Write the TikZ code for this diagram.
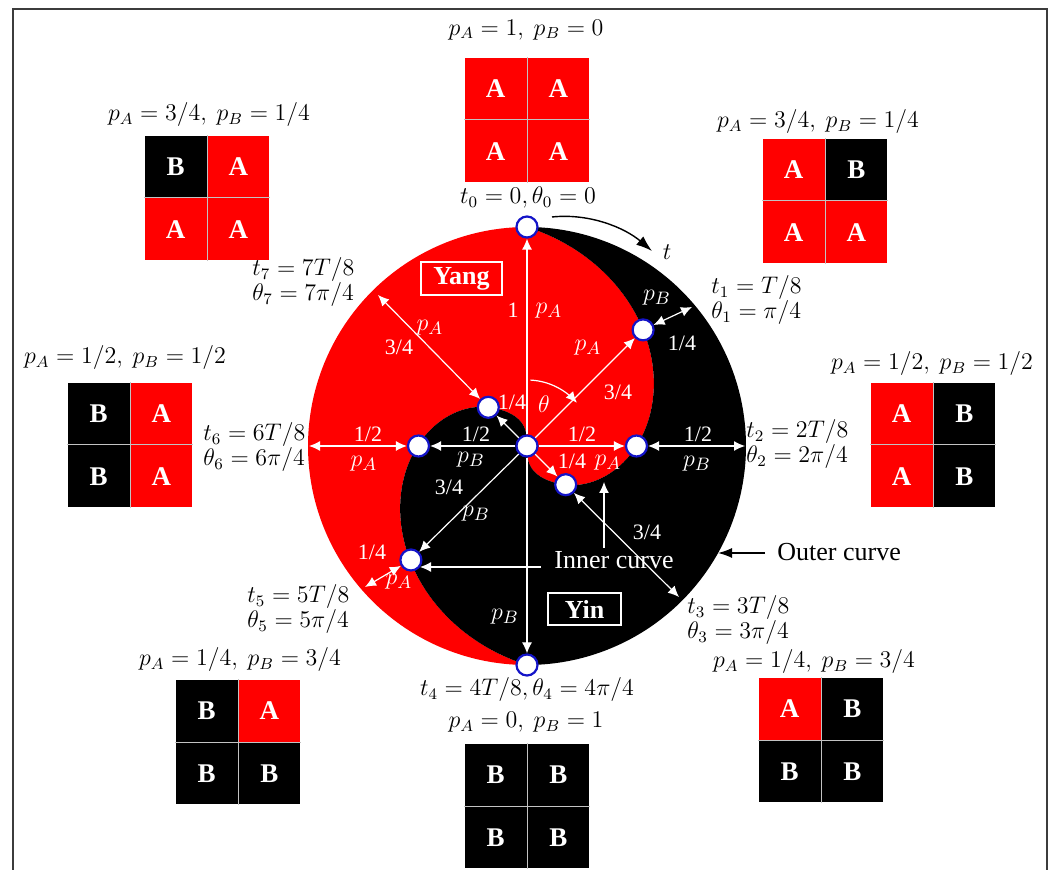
\documentclass[tikz,border=0pt]{standalone}
\usepackage{fontspec}
\setmainfont{Liberation Serif}
\usetikzlibrary{arrows.meta}
\definecolor{yred}{RGB}{255,0,0}
\definecolor{mblue}{RGB}{20,20,200}
\definecolor{gridline}{RGB}{195,195,195}
\definecolor{framec}{RGB}{60,60,60}
\newcommand\sqgrid[5]{%
  \node[cell,c#2,anchor=south east] (#1-tl) at (#1) {#2};
  \node[cell,c#3,anchor=south west] (#1-tr) at (#1) {#3};
  \node[cell,c#4,anchor=north east] (#1-bl) at (#1) {#4};
  \node[cell,c#5,anchor=north west] (#1-br) at (#1) {#5};
  \draw[gridline,line width=0.5pt] (#1-tl.north east) -- (#1-bl.south east);
  \draw[gridline,line width=0.5pt] (#1-tl.south west) -- (#1-tr.south east);
}
\begin{document}
\begin{tikzpicture}[x=0.5pt,y=-0.5pt,
  declare function={rs(\t)=ifthenelse(\t<135,219*(1-\t/180),54.75*(0.8*sqrt(max(0,(180-\t)/45))+0.2*((180-\t)/45)^3));},
  marker/.style={circle,draw=mblue,line width=1.1pt,fill=white,minimum size=10.5pt,inner sep=0pt},
  warrow/.style={white,line width=0.6pt,-{Latex[length=5.5pt,width=5pt]}},
  wdarrow/.style={white,line width=0.6pt,{Latex[length=5.5pt,width=5pt]}-{Latex[length=5.5pt,width=5pt]}},
  wlab/.style={text=white,font=\fontsize{11}{12}\selectfont,inner sep=0pt},
  wmath/.style={text=white,font=\fontsize{12.5}{13}\selectfont,inner sep=0pt},
  blab/.style={font=\fontsize{11.5}{12.5}\selectfont,inner sep=0pt},
  cell/.style={minimum size=31pt,inner sep=0pt,text=white,font=\fontsize{13.5}{16}\selectfont\bfseries},
  cA/.style={fill=yred},
  cB/.style={fill=black},
  wbox/.style={draw=white,line width=0.6pt,text=white,font=\fontsize{13}{15}\selectfont\bfseries,inner sep=0pt}
]
\useasboundingbox (0,0) rectangle (1054,870);
% frame
\draw[framec,line width=0.75pt] (13,870) -- (13,9) -- (1047,9) -- (1047,870);

% yin-yang body
\fill[yred] plot[domain=0:180,samples=200] ({527+rs(\x)*sin(\x)},{446-rs(\x)*cos(\x)})
  -- plot[domain=360:180,samples=200] ({527+rs(\x-180)*sin(\x)},{446-rs(\x-180)*cos(\x)})
  -- plot[domain=180:360,samples=160] ({527+219*sin(\x)},{446-219*cos(\x)}) -- cycle;
\fill[black] plot[domain=0:180,samples=200] ({527+rs(\x)*sin(\x)},{446-rs(\x)*cos(\x)})
  -- plot[domain=360:180,samples=200] ({527+rs(\x-180)*sin(\x)},{446-rs(\x-180)*cos(\x)})
  -- plot[domain=180:0,samples=160] ({527+219*sin(\x)},{446-219*cos(\x)}) -- cycle;

% markers
\node[marker] (cc) at (527,446) {};
\node[marker] (c0) at (527,227) {};
\node[marker] (c1) at (643.1,329.9) {};
\node[marker] (c2) at (636.5,446) {};
\node[marker] (c3) at (565.7,484.7) {};
\node[marker] (c4) at (527,665) {};
\node[marker] (c5) at (410.9,560) {};
\node[marker] (c6) at (418.5,446) {};
\node[marker] (c7) at (488.3,407.3) {};

% outer points
\coordinate (o1) at (692,307);
\coordinate (o2) at (745,446);
\coordinate (o3) at (679,597);
\coordinate (o5) at (365,587);
\coordinate (o6) at (309,446);
\coordinate (o7) at (378,295);

% white arrows
\foreach \n in {c0,c1,c2,c3,c4,c5,c6,c7} { \draw[warrow] (cc) -- (\n); }
\draw[wdarrow] (c1) -- (o1);
\draw[wdarrow] (c2) -- (o2);
\draw[wdarrow] (c3) -- (o3);
\draw[wdarrow] (c5) -- (o5);
\draw[wdarrow] (c6) -- (o6);
\draw[wdarrow] (c7) -- (o7);

% theta arc
\draw[warrow] plot[domain=3:49,samples=40] ({527+66*sin(\x)},{446-66*cos(\x)});
\node[wmath] (th) at (544,404) {$\theta$};

% white labels
\node[wlab] (l1) at (513,310) {1};
\node[wmath] (l2) at (549,311) {$p_A$};
\node[wmath] (l3) at (430,328) {$p_A$};
\node[wlab] (l4) at (399,347) {3/4};
\node[wmath] (l5) at (588,348) {$p_A$};
\node[wlab] (l6) at (618,392) {3/4};
\node[wmath] (l7) at (657,298) {$p_B$};
\node[wlab] (l8) at (682,343) {1/4};
\node[wlab] (l9) at (512,402) {1/4};
\node[wlab] (l10) at (368,434) {1/2};
\node[wmath] (l11) at (364,464) {$p_A$};
\node[wlab] (l12) at (476,434) {1/2};
\node[wmath] (l13) at (471,460) {$p_B$};
\node[wlab] (l14) at (582,434) {1/2};
\node[wlab] (l15) at (698,434) {1/2};
\node[wmath] (l16) at (697,464) {$p_B$};
\node[wlab] (l17) at (572,461) {1/4};
\node[wmath] (l18) at (608,463) {$p_A$};
\node[wlab] (l19) at (449,487) {3/4};
\node[wmath] (l20) at (476,514) {$p_B$};
\node[wlab] (l21) at (647,532) {3/4};
\node[wlab] (l22) at (372,552) {1/4};
\node[wmath] (l23) at (399,582) {$p_A$};
\node[wmath] (l24) at (505,617) {$p_B$};

% Yang / Yin boxes
\node[wbox,minimum width=40.5pt,minimum height=16.5pt] (yang) at (461.5,278.5) {Yang};
\node[wbox,minimum width=36.5pt,minimum height=16pt] (yin) at (584.5,609) {Yin};

% inner curve
\node[text=white,font=\fontsize{13}{15}\selectfont,inner sep=0pt] (ic) at (614,560) {Inner curve};
\coordinate (icv0) at (604,548);
\coordinate (icv1) at (604,482);
\coordinate (ich0) at (541,567);
\coordinate (ich1) at (420,567);
\draw[warrow] (icv0) -- (icv1);
\draw[warrow] (ich0) -- (ich1);

% outer curve
\node[font=\fontsize{13}{15}\selectfont,inner sep=0pt,anchor=west] (oc) at (777,552) {Outer curve};
\coordinate (oca) at (765,553);
\coordinate (ocb) at (718,553);
\draw[black,line width=0.7pt,-{Latex[length=7pt,width=5pt]}] (oca) -- (ocb);

% time arrow
\coordinate (ta) at (552,217);
\coordinate (tb) at (652,251);
\draw[black,line width=0.7pt,-{Latex[length=8pt,width=5.5pt]}] (ta) .. controls (590,213) and (625,228) .. (tb);
\node[font=\fontsize{12.5}{14}\selectfont,inner sep=0pt] (tl) at (667,252) {$t$};

% time labels
\node[blab] (t0) at (528,198) {$t_0 = 0, \theta_0 = 0$};
\node[blab,align=left,anchor=west] (t1) at (711,300) {$t_1 = T/8$\\$\theta_1 = \pi/4$};
\node[blab,align=left,anchor=west] (t2) at (746,444) {$t_2 = 2T/8$\\$\theta_2 = 2\pi/4$};
\node[blab,align=left,anchor=west] (t3) at (687,620) {$t_3 = 3T/8$\\$\theta_3 = 3\pi/4$};
\node[blab] (t4) at (527,690) {$t_4 = 4T/8, \theta_4 = 4\pi/4$};
\node[blab,align=left,anchor=west] (t5) at (247,609) {$t_5 = 5T/8$\\$\theta_5 = 5\pi/4$};
\node[blab,align=left,anchor=west] (t6) at (203,447) {$t_6 = 6T/8$\\$\theta_6 = 6\pi/4$};
\node[blab,align=left,anchor=west] (t7) at (252,282) {$t_7 = 7T/8$\\$\theta_7 = 7\pi/4$};

% grids
\coordinate (g0) at (527,120);
\coordinate (g1) at (825,201);
\coordinate (g2) at (933,445);
\coordinate (g3) at (821,740);
\coordinate (g4) at (527,806);
\coordinate (g5) at (238,742);
\coordinate (g6) at (130,445);
\coordinate (g7) at (207,198);
\sqgrid{g0}{A}{A}{A}{A}
\sqgrid{g1}{A}{B}{A}{A}
\sqgrid{g2}{A}{B}{A}{B}
\sqgrid{g3}{A}{B}{B}{B}
\sqgrid{g4}{B}{B}{B}{B}
\sqgrid{g5}{B}{A}{B}{B}
\sqgrid{g6}{B}{A}{B}{A}
\sqgrid{g7}{B}{A}{A}{A}

% grid labels
\node[blab] (p0) at (526,30) {$p_A = 1,\ p_B = 0$};
\node[blab] (p1) at (818,122) {$p_A = 3/4,\ p_B = 1/4$};
\node[blab] (p2) at (932,364) {$p_A = 1/2,\ p_B = 1/2$};
\node[blab] (p3) at (814,662) {$p_A = 1/4,\ p_B = 3/4$};
\node[blab] (p4) at (526,722) {$p_A = 0,\ p_B = 1$};
\node[blab] (p5) at (240,660) {$p_A = 1/4,\ p_B = 3/4$};
\node[blab] (p6) at (125,358) {$p_A = 1/2,\ p_B = 1/2$};
\node[blab] (p7) at (209,115) {$p_A = 3/4,\ p_B = 1/4$};
\end{tikzpicture}
\end{document}
